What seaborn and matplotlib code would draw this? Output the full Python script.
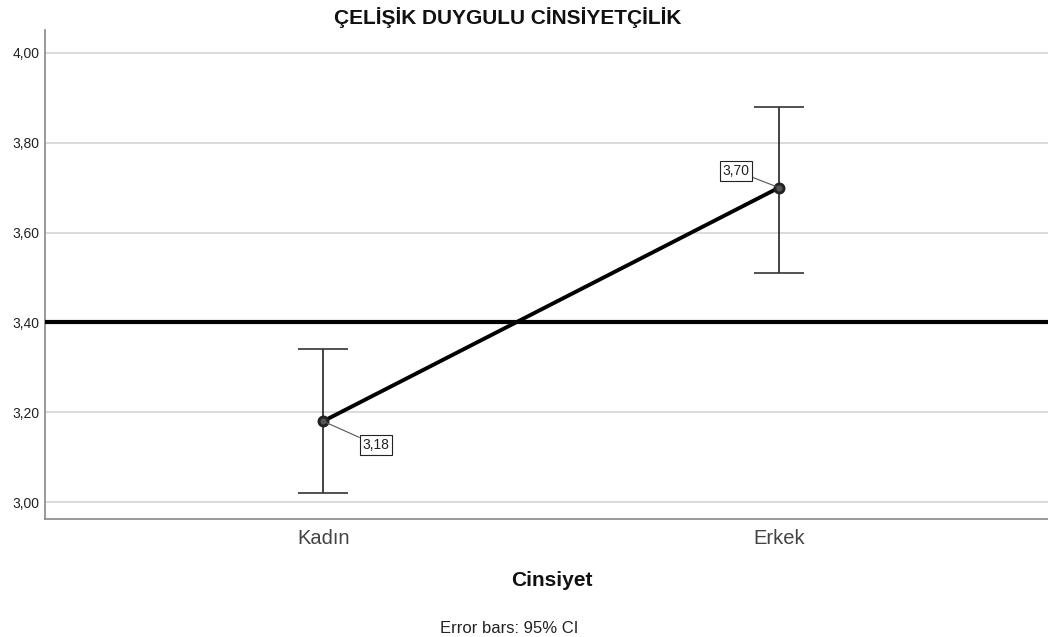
import pandas as pd
import matplotlib
matplotlib.use("Agg")
import matplotlib.pyplot as plt
import seaborn as sns

sns.set_style("white")
plt.rcParams['font.family'] = ['Liberation Sans', 'DejaVu Sans']

# -------------------------
# Data
# -------------------------
groups = ['Kadın', 'Erkek']
means = [3.18, 3.70]
ci_low = [3.02, 3.51]
ci_high = [3.34, 3.88]
mean_labels = ['3,18', '3,70']
ref_value = 3.40
y_ticks = [3.00, 3.20, 3.40, 3.60, 3.80, 4.00]

df = pd.DataFrame({'Cinsiyet': groups, 'mean': means, 'lo': ci_low, 'hi': ci_high})

fig = plt.figure(figsize=(10.48, 6.37), dpi=100)
ax = fig.add_axes([0.043, 0.185, 0.957, 0.768])

for t in y_ticks:
    ax.axhline(t, color='#d4d4d4', lw=1.2, zorder=0)

# error bars (95% CI)
xpos = list(range(len(groups)))
yerr = [[m - l for m, l in zip(means, ci_low)], [h - m for m, h in zip(means, ci_high)]]
ax.errorbar(xpos, means, yerr=yerr, fmt='none', ecolor='#333333', elinewidth=1.2,
            capsize=18, capthick=1.2, zorder=2)

ax.axhline(ref_value, color='black', lw=3, zorder=3)

sns.pointplot(data=df, x='Cinsiyet', y='mean', errorbar=None, color='black',
              markers='o', linewidth=2.8, markersize=6.5, ax=ax, zorder=4)
for coll in ax.collections:
    coll.set_facecolor('#555555')
    coll.set_edgecolor('#222222')
for ln in ax.lines:
    if ln.get_marker() == 'o':
        ln.set_markerfacecolor('#555555')
        ln.set_markeredgecolor('#222222')

offsets = [(38, -17), (-31, 12)]
for i, (m, lab) in enumerate(zip(means, mean_labels)):
    ax.annotate(lab, xy=(i, m), xytext=offsets[i], textcoords='offset points',
                ha='center', va='center', fontsize=10, color='#222222',
                bbox=dict(boxstyle='square,pad=0.2', fc='white', ec='#222222', lw=0.8),
                arrowprops=dict(arrowstyle='-', color='#555555', lw=0.8,
                                shrinkA=0, shrinkB=0), zorder=5)

ax.set_xlim(-0.61, 1.59)
ax.set_ylim(2.962, 4.051)
ax.set_yticks(y_ticks)
ax.set_yticklabels([f'{t:.2f}'.replace('.', ',') for t in y_ticks], fontsize=10, color='#222222')
ax.tick_params(axis='x', labelsize=14.5, colors='#444444', length=0, pad=7)
ax.tick_params(axis='y', length=0, pad=4)
ax.set_xlabel('')
ax.set_ylabel('')

for s in ['top', 'right']:
    ax.spines[s].set_visible(False)
for s in ['left', 'bottom']:
    ax.spines[s].set_color('#888888')
    ax.spines[s].set_linewidth(1.2)

fig.text(0.484, 0.972, 'ÇELİŞİK DUYGULU CİNSİYETÇİLİK', ha='center', va='center',
         fontsize=15, fontweight='bold', color='#111111')
fig.text(0.527, 0.089, 'Cinsiyet', ha='center', va='center', fontsize=15,
         fontweight='bold', color='#111111')
fig.text(0.486, 0.014, 'Error bars: 95% CI', ha='center', va='center', fontsize=12,
         color='#222222')

fig.savefig('out.png', dpi=100)
